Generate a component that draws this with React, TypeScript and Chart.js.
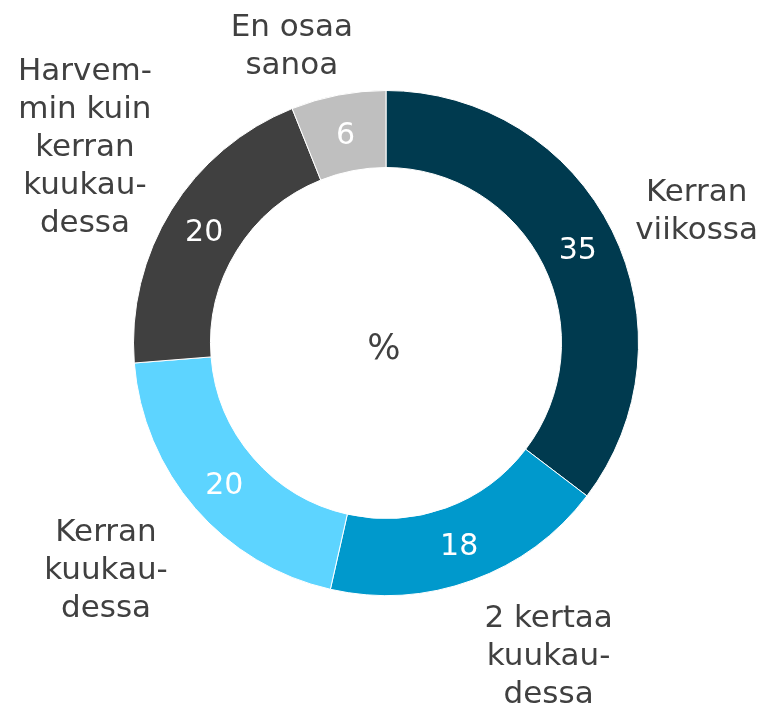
import React, { useEffect, useRef } from "react";
import { Chart, registerables } from "chart.js";

Chart.register(...registerables);

const categories: string[][] = [
  ["Kerran", "viikossa"],
  ["2 kertaa", "kuukau-", "dessa"],
  ["Kerran", "kuukau-", "dessa"],
  ["Harvem-", "min kuin", "kerran", "kuukau-", "dessa"],
  ["En osaa", "sanoa"],
];
const values: number[] = [35, 18, 20, 20, 6];
const colors: string[] = ["#003A4F", "#0099CC", "#5DD4FF", "#404040", "#BFBFBF"];

// label placement relative to arc geometry: radius factor (× outer radius) and angle tweak (deg)
const labelRadius: number[] = [1.34, 1.39, 1.423, 1.427, 1.24];
const labelAngleShift: number[] = [3, -7.6, 2.1, 1.5, -6.6];

const FONT = "DejaVu Sans, Verdana, sans-serif";

const labelPlugin = {
  id: "donutLabels",
  afterDatasetsDraw(chart: any) {
    const ctx = chart.ctx;
    const meta = chart.getDatasetMeta(0);
    ctx.save();
    meta.data.forEach((arc: any, i: number) => {
      const { x, y, startAngle, endAngle, innerRadius, outerRadius } = arc.getProps(
        ["x", "y", "startAngle", "endAngle", "innerRadius", "outerRadius"],
        true
      );
      const mid = (startAngle + endAngle) / 2;
      const rMid = (innerRadius + outerRadius) / 2;
      // value label
      ctx.fillStyle = "#ffffff";
      ctx.font = `30px ${FONT}`;
      ctx.textAlign = "center";
      ctx.textBaseline = "alphabetic";
      ctx.fillText(String(values[i]), x + Math.cos(mid) * rMid, y + Math.sin(mid) * rMid + 11);
      // category label
      const a = mid + (labelAngleShift[i] * Math.PI) / 180;
      const r = outerRadius * labelRadius[i];
      const cx = x + Math.cos(a) * r;
      const cy = y + Math.sin(a) * r;
      const lines = categories[i];
      const step = 38;
      const h = 22 + (lines.length - 1) * step;
      ctx.fillStyle = "#404040";
      ctx.font = `31px ${FONT}`;
      lines.forEach((ln, k) => {
        ctx.fillText(ln, cx, cy - h / 2 + 22 + k * step);
      });
    });
    // center %
    const c = meta.data[0];
    ctx.fillStyle = "#404040";
    ctx.font = `35px ${FONT}`;
    ctx.textAlign = "center";
    ctx.fillText("%", c.x - 2, c.y + 16);
    ctx.restore();
  },
};

export default function App() {
  const ref = useRef<HTMLCanvasElement>(null);
  useEffect(() => {
    if (!ref.current) return;
    const chart = new Chart(ref.current, {
      type: "doughnut",
      data: {
        labels: categories.map((c) => c.join(" ")),
        datasets: [
          {
            data: values,
            backgroundColor: colors,
            borderColor: "#ffffff",
            borderWidth: 1,
            hoverOffset: 0,
          },
        ],
      },
      options: {
        animation: false,
        responsive: false,
        cutout: "69.5%",
        layout: { padding: { left: 133, right: 120, top: 90, bottom: 112 } },
        plugins: {
          legend: { display: false },
          tooltip: { enabled: false },
        },
      },
      plugins: [labelPlugin],
    });
    return () => chart.destroy();
  }, []);
  return (
    <div style={{ position: "fixed", left: 0, top: 0, width: 759, height: 708, background: "#fff" }}>
      <canvas ref={ref} width={759} height={708} style={{ width: 759, height: 708 }} />
    </div>
  );
}
